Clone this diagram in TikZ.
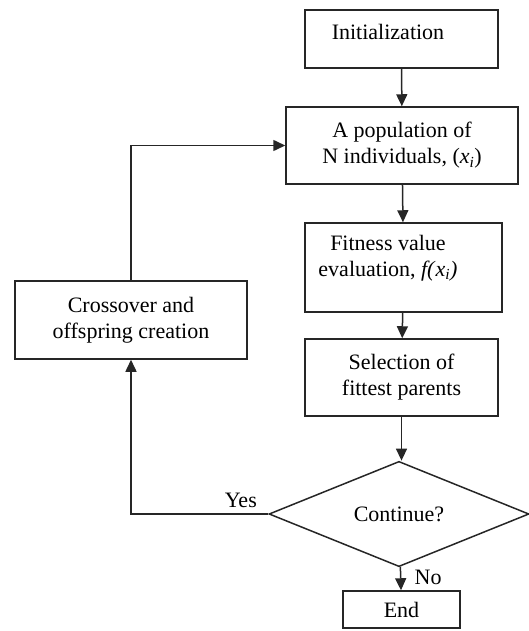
\documentclass[tikz,border=0pt]{standalone}
\usepackage{fontspec}
\setmainfont{Liberation Serif}
\usetikzlibrary{shapes.geometric,arrows.meta}
\newcommand{\xsub}{\textit{x}\textsubscript{\textit{i}}}

\tikzset{
  blk/.style={draw=black!85,line width=1.5pt,inner sep=0pt,align=center},
  txt/.style={inner sep=0pt,align=center},
  arr/.style={draw=black!85,line width=1.5pt,-{Triangle[length=12pt,width=11pt]}}
}

\begin{document}
\begin{tikzpicture}[x=1pt,y=-1pt,font=\fontsize{22}{26}\selectfont]
   \useasboundingbox (0,0) rectangle (528,631);
   \node[blk,minimum width=193pt,minimum height=58pt] (init) at (401.5,39) {};
   \node[txt] (inittxt) at (388,32) {Initialization};
   \node[blk,minimum width=232pt,minimum height=77pt] (pop) at (402,145.5)
     {A population of\\N individuals, (\xsub)};
   \node[blk,minimum width=197pt,minimum height=89pt] (fit) at (403.5,267.5) {};
   \node[txt] (fittxt) at (388,258) {Fitness value\\evaluation, \textit{f(}\xsub\textit{)}};
   \node[blk,minimum width=193pt,minimum height=77pt] (sel) at (401.5,377.5)
     {Selection of\\fittest parents};
   \node[blk,diamond,minimum width=260pt,minimum height=76pt] (cont) at (399,514) {Continue?};
   \node[blk,minimum width=117pt,minimum height=37pt] (end) at (401.5,609.5) {End};
   \node[blk,minimum width=232pt,minimum height=78pt] (cross) at (131,320)
     {Crossover and\\offspring creation};
   \draw[arr] (init) -- (pop);
   \draw[arr] (pop) -- (fit);
   \draw[arr] (fit) -- (sel);
   \draw[arr] (sel) -- (cont.north -| sel.south);
   \draw[arr] (cont) -- node[right=10pt,pos=0.45] (no) {No} (end);
   \draw[arr] (cont.west) -- node[above=2pt,pos=0.2] (yes) {Yes} (cont.west -| cross.south) -- (cross);
   \draw[arr] (cross) |- (pop);
\end{tikzpicture}
\end{document}
